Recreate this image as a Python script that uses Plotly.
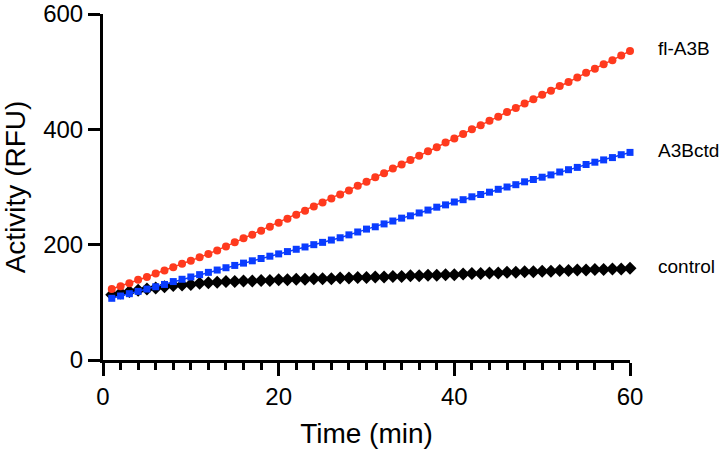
import plotly.graph_objects as go

time_min = list(range(1, 61))

fl_a3b = [123, 128, 133, 139, 144, 150, 155, 161, 167, 172,
          178, 184, 190, 197, 204, 211, 217, 224, 231, 238,
          245, 252, 259, 266, 273, 280, 287, 294, 302, 309,
          317, 324, 332, 339, 347, 354, 362, 369, 377, 384,
          392, 400, 407, 415, 422, 430, 437, 445, 452, 460,
          467, 475, 482, 490, 498, 505, 513, 520, 528, 536]

a3bctd = [107, 111, 115, 119, 123, 127, 131, 136, 140, 144,
          148, 152, 156, 160, 164, 168, 172, 176, 180, 184,
          188, 192, 196, 200, 204, 208, 212, 217, 222, 227,
          231, 236, 241, 246, 250, 255, 260, 265, 269, 274,
          278, 283, 287, 291, 296, 300, 304, 309, 313, 317,
          321, 326, 330, 334, 339, 343, 347, 351, 356, 360]

control = [113, 116, 119, 121, 123, 125, 127, 129, 130, 131,
           133, 134, 135, 136, 136, 137, 137, 138, 138, 139,
           139, 140, 140, 141, 141, 141, 142, 142, 143, 143,
           144, 144, 145, 145, 146, 146, 147, 147, 148, 148,
           149, 150, 150, 151, 151, 152, 152, 153, 153, 154,
           154, 155, 155, 156, 156, 157, 157, 158, 158, 159]

series = [
    ("control", control, "#000000", "diamond", 10),
    ("A3Bctd", a3bctd, "#0A3CFF", "square", 7),
    ("fl-A3B", fl_a3b, "#FF3A1E", "circle", 8),
]

x_ticks = [0, 20, 40, 60]
y_ticks = [0, 200, 400, 600]

FONT = "Liberation Sans, Arial, Helvetica, sans-serif"

fig = go.Figure()
for name, vals, color, sym, size in series:
    fig.add_trace(go.Scatter(
        x=time_min, y=vals, name=name, mode="lines+markers",
        line=dict(color=color, width=1.5),
        marker=dict(symbol=sym, size=size, color=color, line=dict(width=0)),
        showlegend=False, cliponaxis=False,
    ))
    fig.add_annotation(
        x=time_min[-1], y=vals[-1], xref="x", yref="y",
        text=name, showarrow=False, xanchor="left", yanchor="middle",
        xshift=26, yshift=2, font=dict(family=FONT, size=19, color="black"),
    )

fig.update_layout(
    width=720, height=455,
    margin=dict(l=103, r=90, t=14, b=95),
    plot_bgcolor="white", paper_bgcolor="white",
    font=dict(family=FONT, color="black"),
)

fig.update_xaxes(
    range=[0, 60], tickvals=x_ticks, ticks="outside", ticklen=13, tickwidth=3,
    tickcolor="black", showline=True, linewidth=3, linecolor="black",
    showgrid=False, zeroline=False, automargin=False, ticklabeloverflow="allow",
    tickfont=dict(family=FONT, size=24, color="black"),
    title=dict(text="Time (min)", font=dict(family=FONT, size=28, color="black"), standoff=15),
    minor=dict(dtick=2, ticks="outside", ticklen=7, tickwidth=3, tickcolor="black", showgrid=False),
)
fig.update_yaxes(
    range=[0, 600], tickvals=y_ticks, ticks="outside", ticklen=12, tickwidth=3,
    tickcolor="black", showline=True, linewidth=3, linecolor="black",
    showgrid=False, zeroline=False, automargin=False, ticklabeloverflow="allow",
    tickfont=dict(family=FONT, size=24, color="black"),
    title=dict(text="Activity (RFU)", font=dict(family=FONT, size=28, color="black"), standoff=10),
)

fig.write_html("out.html", config={"displayModeBar": False},
               post_script="document.body.style.margin='0';")
